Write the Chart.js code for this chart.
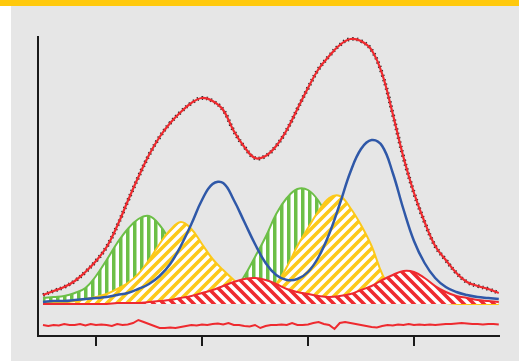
<!DOCTYPE html>
<html>
<head>
<meta charset="utf-8">
<script src="https://cdn.jsdelivr.net/npm/chart.js@4.4.0/dist/chart.umd.min.js"></script>
<style>
  html, body { margin: 0; padding: 0; background: #fff; }
  #wrap { position: relative; width: 519px; height: 361px; overflow: hidden; }
  #barra { position: absolute; left: 0; top: 0; width: 519px; height: 6px; background: #ffc90c; }
  #panel { position: absolute; left: 11px; top: 6px; width: 508px; height: 355px; background: #e6e6e6; }
  canvas { position: absolute; left: 0; top: 0; }
</style>
</head>
<body>
<div id="wrap">
  <div id="barra"></div>
  <div id="panel"></div>
  <canvas id="grafico" width="519" height="361"></canvas>
</div>
<script>
// Eje x (posiciones de muestreo) y marcas del eje
const ejeX = [50, 60, 70, 80, 90, 100, 110, 120, 130, 140, 150, 160, 170, 180, 190, 200, 210, 220, 230, 240, 250, 260,
  270, 280, 290, 300, 310, 320, 330, 340, 350, 360, 370, 380, 390, 400, 410, 420, 430, 440, 450, 460, 470, 480];
const marcasX = [100, 200, 300, 400];

// Espectro medido / ajuste total
const ajuste = [9, 13, 17, 23, 32, 43, 57, 78, 103, 127, 149, 167, 181, 192, 201, 206, 203, 194, 173, 157, 146, 148,
  158, 174, 195, 216, 235, 248, 259, 265, 263, 254, 230, 190, 147, 111, 82, 58, 44, 31, 22, 18, 15, 11];

// Componentes
const verde = [6, 7, 8, 11, 16, 28, 44, 61, 75, 85, 88, 79, 63, 47, 33, 22, 15, 12, 14, 28, 47, 67,
  90, 106, 115, 114, 103, 84, 62, 42, 27, 17, 11, 7, 5, 4, 3, 3, 2, 2, 2, 1, 1, 1];
const amarillo = [1, 2, 2, 3, 5, 7, 10, 15, 21, 30, 44, 60, 74, 82, 75, 60, 45, 34, 24, 15, 6, 9,
  20, 37, 58, 76, 93, 106, 108, 96, 79, 58, 30, 12, 5, 2, 1, 1, 1, 0, 0, 0, 0, 0];
const rojo = [0, 0, 0, 0, 0, 0, 0, 1, 1, 1, 2, 3, 4, 6, 8, 11, 14, 18, 22, 25, 26, 24,
  20, 15, 12, 10, 8, 7, 8, 10, 14, 18, 24, 29, 33, 32, 26, 18, 12, 8, 6, 4, 3, 2];
const azul = [2, 3, 3, 4, 5, 6, 7, 9, 11, 15, 20, 28, 40, 58, 80, 104, 120, 121, 104, 82, 60, 41,
  29, 24, 25, 32, 47, 70, 100, 132, 155, 164, 158, 131, 95, 63, 41, 26, 17, 12, 9, 7, 6, 5];

// Residuo
const ejeResiduo = [50, 55, 60, 65, 70, 75, 80, 85, 90, 95, 100, 105, 110, 115, 120, 125, 130, 135, 140, 145, 150,
  155, 160, 165, 170, 175, 180, 185, 190, 195, 200, 205, 210, 215, 220, 225, 230, 235, 240, 245, 250, 255, 260,
  265, 270, 275, 280, 285, 290, 295, 300, 305, 310, 315, 320, 325, 330, 335, 340, 345, 350, 355, 360, 365, 370,
  375, 380, 385, 390, 395, 400, 405, 410, 415, 420, 425, 430, 435, 440, 445, 450, 455, 460, 465, 470, 475, 480];
const residuo = [-21, -22, -21, -21.5, -20, -21, -21, -20, -21.5, -20, -21, -20.5, -21, -22, -20, -21, -20.5, -19, -16,
  -18, -20, -22, -24, -24, -23.5, -24, -23, -22, -21, -21.5, -20.5, -21, -20, -19.5, -20.5, -19, -21, -21, -22,
  -22.5, -21, -24, -22, -21, -21, -20.5, -21, -19, -21, -21, -20.5, -19, -18, -20, -21, -25, -19, -18, -19, -20,
  -21, -22, -23, -23.5, -22, -21, -21.5, -20.5, -21, -20, -21, -20.5, -21, -20.5, -21, -20.5, -20, -20, -19.5,
  -19, -19.5, -20, -20, -20.5, -20, -20, -20.5];

// Tramas rayadas
function trama(color, tipo) {
  const c = document.createElement("canvas");
  const g = c.getContext("2d");
  if (tipo === "vertical") {
    c.width = 7; c.height = 7;
    g.fillStyle = "#fff";
    g.fillRect(0, 0, 7, 7);
    g.fillStyle = color;
    g.fillRect(0, 0, 3.5, 7);
  } else {
    const s = 10;
    c.width = s; c.height = s;
    g.fillStyle = "#fff";
    g.fillRect(0, 0, s, s);
    g.strokeStyle = color;
    g.lineWidth = 3.6;
    g.beginPath();
    if (tipo === "sube") {
      g.moveTo(0, s); g.lineTo(s, 0);
      g.moveTo(-s / 2, s / 2); g.lineTo(s / 2, -s / 2);
      g.moveTo(s / 2, 1.5 * s); g.lineTo(1.5 * s, s / 2);
    } else {
      g.moveTo(0, 0); g.lineTo(s, s);
      g.moveTo(-s / 2, s / 2); g.lineTo(s / 2, 1.5 * s);
      g.moveTo(s / 2, -s / 2); g.lineTo(1.5 * s, s / 2);
    }
    g.stroke();
  }
  return g.createPattern(c, "repeat");
}

const puntos = (xs, ys) => xs.map((x, i) => ({ x, y: ys[i] }));

const ctx = document.getElementById("grafico").getContext("2d");

const chart = new Chart(ctx, {
  type: "line",
  data: {
    datasets: [
      { label: "Ajuste", data: puntos(ejeX, ajuste), borderColor: "#ee2a2f", borderWidth: 2.2, tension: 0.4, order: 0 },
      { label: "Datos", data: puntos(ejeX, ajuste), borderColor: "#2a2a2a", borderWidth: 3.8, borderDash: [1.4, 3.2],
        tension: 0.4, order: 1 },
      { label: "Pico azul", data: puntos(ejeX, azul), borderColor: "#2f58a8", borderWidth: 2.5, tension: 0.4, order: 2 },
      { label: "Pico rojo", data: puntos(ejeX, rojo), borderColor: "#ee2a2f", borderWidth: 2,
        backgroundColor: trama("#ee2a2f", "baja"), fill: "origin", tension: 0.4, order: 3 },
      { label: "Pico amarillo", data: puntos(ejeX, amarillo), borderColor: "#fcc91a", borderWidth: 2,
        backgroundColor: trama("#fcc91a", "sube"), fill: "origin", tension: 0.4, order: 4 },
      { label: "Pico verde", data: puntos(ejeX, verde), borderColor: "#6cbf47", borderWidth: 2,
        backgroundColor: trama("#6cbf47", "vertical"), fill: "origin", tension: 0.4, order: 5 },
      { label: "Residuo", data: puntos(ejeResiduo, residuo), borderColor: "#ee2a2f", borderWidth: 2, tension: 0, order: 6 }
    ]
  },
  options: {
    responsive: false,
    animation: false,
    elements: { point: { radius: 0 } },
    layout: { padding: { left: 38, top: 37, right: 20, bottom: 0 } },
    plugins: { legend: { display: false }, tooltip: { enabled: false } },
    scales: {
      x: {
        type: "linear",
        min: 45.3,
        max: 480.2,
        grid: { display: true, drawOnChartArea: false, drawTicks: true, tickLength: 10, color: "#1a1a1a", lineWidth: 2 },
        border: { display: true, color: "#1a1a1a", width: 2 },
        ticks: { display: false },
        afterBuildTicks: s => { s.ticks = marcasX.map(v => ({ value: v })); },
        afterFit: s => { s.height = 25; }
      },
      y: {
        type: "linear",
        min: -32,
        max: 267,
        grid: { display: false },
        border: { display: true, color: "#1a1a1a", width: 2 },
        ticks: { display: false },
        afterFit: s => { s.width = 0; }
      }
    }
  }
});
</script>
</body>
</html>
